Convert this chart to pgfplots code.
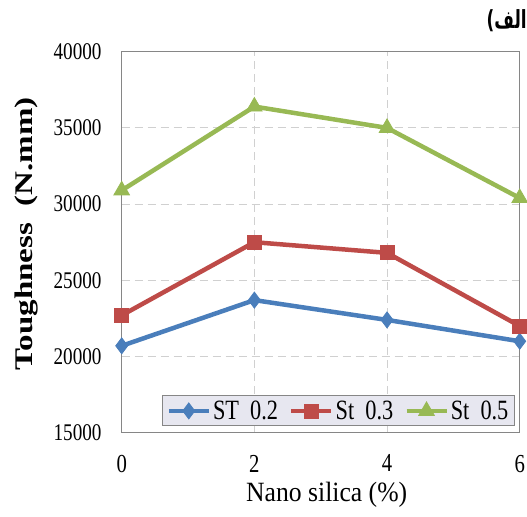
\documentclass[border=0pt]{standalone}
\usepackage{pgfplots}
\pgfplotsset{compat=1.18}
\usepackage{graphicx}
\usepackage{fontspec}
\setmainfont{Liberation Serif}
\newfontfamily\cf{Liberation Serif}[FakeStretch=0.8]
\newfontfamily\xlf{Liberation Serif}[FakeStretch=0.92]
\newfontfamily\arabicfont[Script=Arabic]{DejaVu Sans}
\TeXXeTstate=1
\definecolor{cblue}{RGB}{74,126,187}
\definecolor{cred}{RGB}{190,75,72}
\definecolor{cgreen}{RGB}{152,185,84}
\definecolor{legfill}{RGB}{231,231,240}
\definecolor{axgray}{RGB}{134,134,134}
\definecolor{gridgray}{RGB}{208,208,208}
\begin{document}
\begin{tikzpicture}
\begin{axis}[
  scale only axis,
  clip=false,
  width=398bp, height=381bp,
  xmin=0, xmax=6, ymin=15000, ymax=40000,
  xtick={0,2,4,6},
  ytick={15000,20000,25000,30000,35000,40000},
  scaled y ticks=false,
  enlargelimits=false,
  axis line style={draw=axgray, line width=1.2bp},
  major tick length=0pt,
  grid=major,
  major grid style={draw=gridgray, line width=1bp, dash pattern=on 8bp off 5bp},
  /pgf/number format/assume math mode=true,
  /pgf/number format/set thousands separator={},
  yticklabel style={font=\fontsize{24}{24}\cf, inner sep=0pt, anchor=east, xshift=-20bp},
  xticklabel style={font=\fontsize{26}{26}\cf, inner sep=0pt, anchor=north, yshift=-22bp},
  xlabel={Nano silica (\%)},
  xlabel style={font=\fontsize{28}{28}\xlf, at={(axis description cs:0.515,-0.180)}, anchor=base, inner sep=0pt},
  ylabel={\scalebox{1.3}[1]{\fontsize{25.5}{26}\selectfont\bfseries Toughness\ \ (N.mm)}},
  ylabel style={at={(axis description cs:-0.239,0.522)}, anchor=center, rotate=0, inner sep=0pt},
  legend columns=3,
  legend style={at={(axis description cs:0.988,0.0165)}, anchor=south east,
    fill=legfill, draw=axgray, line width=1bp, font=\fontsize{28}{30}\cf,
    inner xsep=4bp, inner ysep=3bp,
    /tikz/every even column/.append style={column sep=9bp}},
  legend image code/.code={
    \draw[#1, mark repeat=2, mark phase=2] plot coordinates {(0bp,0bp) (20bp,0bp) (40bp,0bp)};
  },
  every axis plot/.append style={line width=4.5bp, mark options={solid, line width=0.8bp}},
]
\addplot[color=cblue, mark=diamond*, mark size=8bp] coordinates {(0,20700) (2,23700) (4,22400) (6,21000)};
\addlegendentry{ST\ \ 0.2}
\addplot[color=cred, mark=square*, mark size=7bp] coordinates {(0,22700) (2,27500) (4,26800) (6,22000)};
\addlegendentry{St\ \ 0.3}
\addplot[color=cgreen, mark=triangle*, mark size=9bp] coordinates {(0,30900) (2,36400) (4,35000) (6,30400)};
\addlegendentry{St\ \ 0.5}
\node[anchor=east, inner sep=0pt] at (axis description cs:1.018,1.081)
  {\scalebox{0.68}[1]{\fontsize{25}{27}\arabicfont\bfseries )\beginR الف\endR}};
\end{axis}
\pgfresetboundingbox
\path (-121.7bp,-84bp) rectangle (405.3bp,432.7bp);
\end{tikzpicture}
\end{document}
